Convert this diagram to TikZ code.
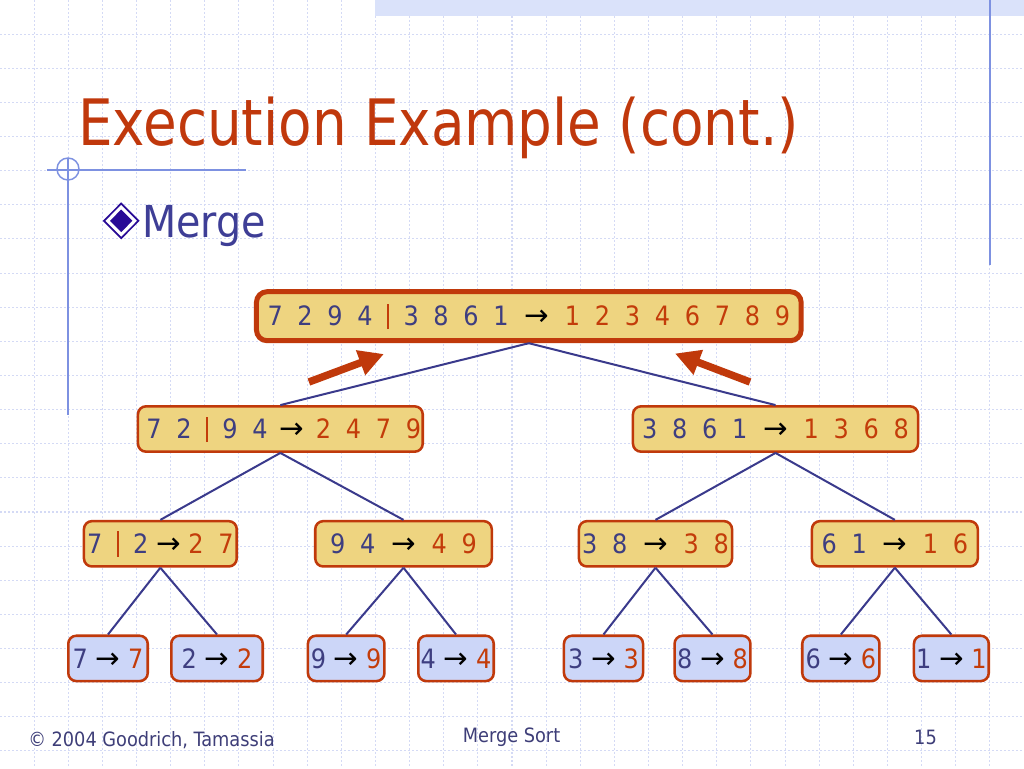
\documentclass[tikz,border=0pt]{standalone}
\usepackage{fontspec}
\setmainfont{DejaVu Sans Condensed}
\newfontfamily\arrowfont{DejaVu Sans}
\usetikzlibrary{arrows.meta}
\definecolor{titlec}{RGB}{192,56,12}
\definecolor{boxc}{RGB}{192,57,11}
\definecolor{yelc}{RGB}{238,212,128}
\definecolor{bluc}{RGB}{204,214,248}
\definecolor{digc}{RGB}{62,62,128}
\definecolor{resc}{RGB}{195,60,10}
\definecolor{connc}{RGB}{58,58,140}
\definecolor{mergec}{RGB}{62,62,150}
\definecolor{footc}{RGB}{62,62,120}
\definecolor{decoc}{RGB}{125,145,225}
\definecolor{bandc}{RGB}{218,226,250}
\definecolor{gridc}{RGB}{212,218,245}
\definecolor{bulc}{RGB}{40,10,150}
\newcommand{\dg}[1]{\makebox[22.5pt]{#1}}
\newcommand{\rd}[1]{\makebox[22.5pt]{\textcolor{resc}{#1}}}
\newcommand{\barsep}{\makebox[12pt]{\textcolor{resc}{\rule[-2.5pt]{1.5pt}{19pt}}}}
\newcommand{\arglyph}{{\arrowfont\fontsize{22}{24}\selectfont\textcolor{black}{→}}}
\newcommand{\warr}{\makebox[31pt]{\arglyph}}
\newcommand{\narr}{\makebox[19pt]{\arglyph}}
\newcommand{\marr}{\makebox[25pt]{\arglyph}}
\newcommand{\tx}[2][0pt]{\makebox[0pt]{\hspace*{#1}#2}}
\begin{document}
\begin{tikzpicture}[x=0.75pt,y=-0.75pt,
  boxbase/.style={draw=boxc, line width=1.9pt, rounded corners=6pt,
    minimum height=34pt, inner sep=0pt, text height=14.5pt, text depth=0pt,
    text=digc, font=\fontsize{20}{23}\selectfont},
  ybox/.style={boxbase, fill=yelc},
  bbox/.style={boxbase, fill=bluc},
  topbox/.style={ybox, line width=3.75pt, rounded corners=8pt,
    minimum height=36.75pt, minimum width=408.5pt},
  conn/.style={draw=connc, line width=1.5pt},
  bigarrow/.style={draw=boxc, line width=5.6pt,
    -{Triangle[length=18.7pt,width=18.7pt]}},
  gridline/.style={draw=gridc, line width=0.8pt, dash pattern=on 1.5pt off 1.5pt},
  deco/.style={draw=decoc, line width=1.1pt},
  foot/.style={inner sep=0pt, text=footc, font=\fontsize{14.8}{17}\selectfont}]
\useasboundingbox (0,0) rectangle (1024,768);
\fill[white] (0,0) rectangle (1024,768);
% grid
\foreach \k in {1,...,29} {\draw[gridline] ({\k*34.1333},0) -- ({\k*34.1333},768);}
\foreach \k in {1,...,22} {\draw[gridline] (0,{\k*34.1333}) -- (1024,{\k*34.1333});}
% top band and decorations
\fill[bandc] (375,0) rectangle (1024,16);
\draw[deco] (990,0) -- (990,265);
\draw[deco] (47,170) -- (246,170);
\draw[deco] (68,158) -- (68,415);
\draw[deco] (68,169) circle (11);
% title and bullet
\node[anchor=base west, inner sep=0pt, text=titlec, font=\fontsize{48}{56}\selectfont] (title) at (78,145) {\scalebox{0.951}[1]{Execution Example (cont.)}};
\draw[bulc, line width=1.3pt, fill=white] (121.2,203.5) -- (138.4,220.8) -- (121.2,238.1) -- (104,220.8) -- cycle;
\fill[bulc] (121.2,209.5) -- (132.4,220.8) -- (121.2,232.1) -- (110,220.8) -- cycle;
\node[anchor=base west, inner sep=0pt, text=mergec, font=\fontsize{33}{40}\selectfont] (merge) at (142,237) {Merge};
% tree boxes
\node[topbox] (top) at (528.8,316.2) {\tx{\dg7\dg2\dg9\dg4\barsep\dg3\dg8\dg6\dg1\warr\rd1\rd2\rd3\rd4\rd6\rd7\rd8\rd9}};
\node[ybox, minimum width=213.6pt] (l) at (280.35,429) {\tx[5.1pt]{\dg7\dg2\barsep\dg9\dg4\marr\rd2\rd4\rd7\rd9}};
\node[ybox, minimum width=213.8pt] (r) at (775.5,429) {\tx{\dg3\dg8\dg6\dg1\warr\rd1\rd3\rd6\rd8}};
\node[ybox, minimum width=114.6pt] (ll) at (160.35,543.8) {\tx{\dg7\barsep\dg2\narr\rd2\rd7}};
\node[ybox, minimum width=132.4pt] (lr) at (403.5,543.8) {\tx{\dg9\dg4\warr\rd4\rd9}};
\node[ybox, minimum width=114.8pt] (rl) at (655.5,543.8) {\tx{\dg3\dg8\warr\rd3\rd8}};
\node[ybox, minimum width=124.4pt] (rr) at (894.85,543.8) {\tx{\dg6\dg1\warr\rd1\rd6}};
\node[bbox, minimum width=59.6pt] (lll) at (108,658.4) {\tx{\dg7\narr\rd7}};
\node[bbox, minimum width=68.6pt] (llr) at (217,658.4) {\tx{\dg2\narr\rd2}};
\node[bbox, minimum width=57.4pt] (lrl) at (346.2,658.4) {\tx{\dg9\narr\rd9}};
\node[bbox, minimum width=56.6pt] (lrr) at (456,658.4) {\tx{\dg4\narr\rd4}};
\node[bbox, minimum width=59.3pt] (rll) at (603.5,658.4) {\tx{\dg3\narr\rd3}};
\node[bbox, minimum width=56.9pt] (rlr) at (712.5,658.4) {\tx{\dg8\narr\rd8}};
\node[bbox, minimum width=57.9pt] (rrl) at (840.85,658.4) {\tx{\dg6\narr\rd6}};
\node[bbox, minimum width=56.1pt] (rrr) at (951.35,658.4) {\tx{\dg1\narr\rd1}};
% connectors
\draw[conn] (top.south) -- (l.north);
\draw[conn] (top.south) -- (r.north);
\draw[conn] (l.south) -- (ll.north);
\draw[conn] (l.south) -- (lr.north);
\draw[conn] (r.south) -- (rl.north);
\draw[conn] (r.south) -- (rr.north);
\draw[conn] (ll.south) -- (lll.north);
\draw[conn] (ll.south) -- (llr.north);
\draw[conn] (lr.south) -- (lrl.north);
\draw[conn] (lr.south) -- (lrr.north);
\draw[conn] (rl.south) -- (rll.north);
\draw[conn] (rl.south) -- (rlr.north);
\draw[conn] (rr.south) -- (rrl.north);
\draw[conn] (rr.south) -- (rrr.north);
% big merge arrows
\coordinate (a1s) at (308.9,382);
\coordinate (a1e) at (383.9,354);
\coordinate (a2s) at (750,382);
\coordinate (a2e) at (675,353.5);
\draw[bigarrow] (a1s) -- (a1e);
\draw[bigarrow] (a2s) -- (a2e);
% footer
\node[foot, anchor=base west] (foot1) at (28,746) {© 2004 Goodrich, Tamassia};
\node[foot, anchor=base] (foot2) at (511.5,742) {Merge Sort};
\node[foot, anchor=base] (foot3) at (925.5,744) {15};
\end{tikzpicture}
\end{document}
